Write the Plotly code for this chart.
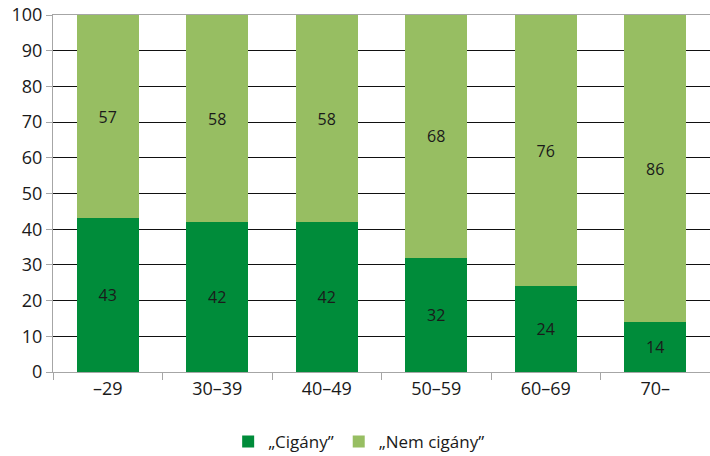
import plotly.graph_objects as go

categories = ["–29", "30–39", "40–49", "50–59", "60–69", "70–"]
cigany = [43, 42, 42, 32, 24, 14]
nem_cigany = [57, 58, 58, 68, 76, 86]
series_names = ["„Cigány”", "„Nem cigány”"]
y_ticks = list(range(0, 101, 10))

dark = "#008C3A"
light = "#97BE62"
font_family = "Open Sans, Noto Sans, DejaVu Sans, sans-serif"

fig = go.Figure()
fig.add_trace(go.Bar(
    x=categories, y=cigany, name=series_names[0], marker_color=dark,
    marker_line_width=0, text=[str(v) for v in cigany], textposition="inside",
    insidetextanchor="middle", textfont=dict(color="#1a1a1a", size=16, family=font_family),
))
fig.add_trace(go.Bar(
    x=categories, y=nem_cigany, name=series_names[1], marker_color=light,
    marker_line_width=0, text=[str(v) for v in nem_cigany], textposition="inside",
    insidetextanchor="middle", textfont=dict(color="#1a1a1a", size=16, family=font_family),
))

fig.update_layout(
    barmode="stack",
    bargap=0.43,
    width=710, height=456,
    margin=dict(l=53, r=0, t=15, b=84, autoexpand=False),
    plot_bgcolor="white", paper_bgcolor="white",
    font=dict(family=font_family, size=18, color="#1a1a1a"),
    uniformtext=dict(mode="show", minsize=16),
    showlegend=True,
    legend=dict(orientation="h", x=0.466, xanchor="center", y=-0.196, yanchor="middle",
                font=dict(size=17), itemwidth=30, traceorder="normal"),
    xaxis=dict(
        showline=True, linecolor="#a6a6a6", linewidth=1, mirror=True,
        ticks="outside", tickson="boundaries", ticklen=7, tickcolor="#a6a6a6",
        showgrid=False, tickfont=dict(size=18), automargin=False,
    ),
    yaxis=dict(
        range=[0, 100], tickvals=y_ticks, showline=True, linecolor="#a6a6a6", linewidth=1,
        ticks="outside", ticklen=6, tickcolor="#a6a6a6",
        showgrid=True, gridcolor="#111111", gridwidth=1, zeroline=False,
        tickfont=dict(size=18), automargin=False,
    ),
)

fig.write_html("out.html", config={"displayModeBar": False},
               post_script="document.body.style.margin='0';document.body.style.padding='0';")
